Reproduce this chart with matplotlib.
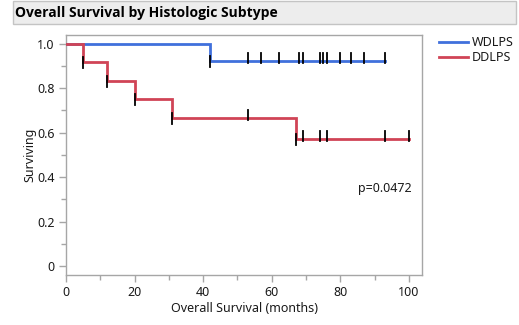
import matplotlib.pyplot as plt
from matplotlib.patches import Rectangle
from matplotlib.ticker import MultipleLocator

plt.rcParams['font.family'] = ['Noto Sans', 'DejaVu Sans']

# Kaplan-Meier steps: times where the curve drops and the level after each drop
wd_times = [0, 42]
wd_surv = [1.0, 0.923]
wd_end = 93
wd_marks = [42, 53.2, 56.9, 62.1, 67.9, 69.1, 74.1, 74.9, 76.1, 79.9, 83.1, 86.9, 93.0]

dd_times = [0, 5, 12, 20, 31, 67]
dd_surv = [1.0, 0.917, 0.833, 0.75, 0.667, 0.571]
dd_end = 100
dd_marks = [5, 12, 20, 31, 53.2, 67, 69.1, 74.1, 76.1, 93.0, 100.0]
dd_events = [5, 12, 20, 31, 67]
wd_events = [42]

p_value = 0.0472

WD_COLOR = '#4070DC'
DD_COLOR = '#D04456'
SPINE = '#A6A6A6'
TEXT = '#1A1A1A'


def level_at(t, times, surv):
    s = surv[0]
    for ti, si in zip(times, surv):
        if t >= ti:
            s = si
    return s


def draw_curve(ax, times, surv, end, marks, events, color, label):
    xs = list(times) + [end]
    ys = list(surv) + [surv[-1]]
    ax.step(xs, ys, where='post', color=color, lw=2.0, label=label,
            solid_joinstyle='miter', zorder=3)
    for m in marks:
        y = level_at(m, times, surv)
        if m in events:
            lo, hi = y - 0.026, y + 0.022
        else:
            lo, hi = y - 0.01, y + 0.037
        ax.plot([m, m], [lo, hi], color='black', lw=1.3, zorder=4)


fig = plt.figure(figsize=(5.19, 3.25), dpi=100)
ax = fig.add_axes([66 / 519, 1 - 275 / 325, 356 / 519, 240 / 325])

draw_curve(ax, wd_times, wd_surv, wd_end, wd_marks, wd_events, WD_COLOR, 'WDLPS')
draw_curve(ax, dd_times, dd_surv, dd_end, dd_marks, dd_events, DD_COLOR, 'DDLPS')

ax.set_xlim(0, 103.8)
ax.set_ylim(-0.040, 1.039)
ax.xaxis.set_major_locator(MultipleLocator(20))
ax.xaxis.set_minor_locator(MultipleLocator(10))
ax.yaxis.set_major_locator(MultipleLocator(0.2))
ax.yaxis.set_minor_locator(MultipleLocator(0.1))
ax.set_yticks([0, 0.2, 0.4, 0.6, 0.8, 1.0])
ax.set_yticklabels(['0', '0.2', '0.4', '0.6', '0.8', '1.0'])

for s in ax.spines.values():
    s.set_color(SPINE)
    s.set_linewidth(1.0)
ax.tick_params(which='major', length=5, width=1, color=SPINE, labelsize=9,
               labelcolor=TEXT, pad=3)
ax.tick_params(which='minor', length=3.5, width=1, color=SPINE)

ax.set_xlabel('Overall Survival (months)', fontsize=9, color=TEXT, labelpad=2)
ax.set_ylabel('Surviving', fontsize=9, color=TEXT, labelpad=1)

ax.text(93, 0.35, f'p={p_value}', fontsize=9, color=TEXT, ha='center', va='center')

ax.legend(loc='upper left', bbox_to_anchor=(1.035, 1.015), frameon=False,
          fontsize=9, handlelength=2.3, handletextpad=0.3, labelspacing=0.15,
          borderaxespad=0, labelcolor=TEXT)

# header bar
fig.patches.append(Rectangle((13 / 519, 1 - 23.5 / 325), 503 / 519, 22 / 325,
                             transform=fig.transFigure, facecolor='#EDEDED',
                             edgecolor='#C4C4C4', lw=1.0, zorder=0))
fig.text(15 / 519, 1 - 12.5 / 325, 'Overall Survival by Histologic Subtype',
         fontsize=10, fontweight='bold', family=['Open Sans', 'DejaVu Sans'],
         color='black', va='center', ha='left')

fig.savefig('out.png', dpi=100)
